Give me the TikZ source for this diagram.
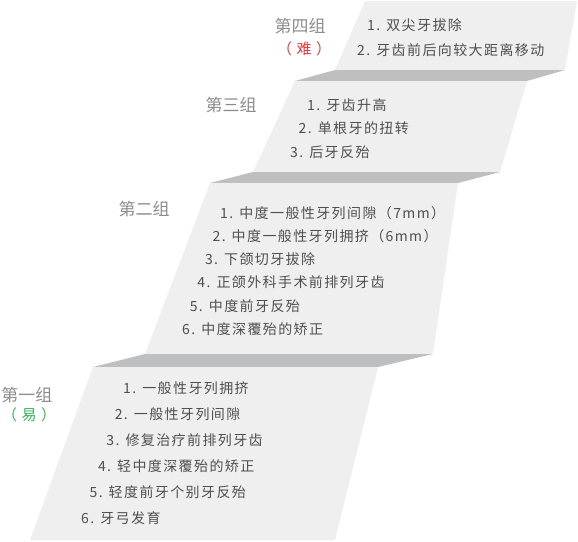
\documentclass[tikz,border=0pt]{standalone}
\usepackage{fontspec}
\setmainfont{Noto Sans CJK SC}
\newfontfamily\cjkitem[LetterSpace=10]{Noto Sans CJK SC}
\newfontfamily\cjklevel[LetterSpace=30]{Noto Sans CJK SC}
\usetikzlibrary{positioning}
\definecolor{cface}{HTML}{EFEFEF}
\definecolor{cband}{HTML}{BEBFC1}
\definecolor{ctext}{HTML}{4F4F4F}
\definecolor{cgroup}{HTML}{8C8C8C}
\definecolor{cred}{HTML}{E8383D}
\definecolor{cgreen}{HTML}{3DAE5A}
\tikzset{
  face/.style={fill=cface},
  band/.style={fill=cband},
  item/.style={anchor=west, inner sep=0pt, text=ctext, font=\cjkitem\fontsize{14}{14}\selectfont},
  group/.style={inner sep=0pt, text=cgroup, font=\fontsize{17}{17}\selectfont},
  level/.style={inner sep=0pt, text=#1, font=\cjklevel\fontsize{15}{15}\selectfont},
}

\begin{document}
\begin{tikzpicture}[x=1pt, y=-1pt]
  \useasboundingbox (0,0) rectangle (578,541);
  % ---------------- steps
  \fill[face] (365,1) -- (577,1) -- (565,70) -- (335,70) -- cycle;
  \fill[band] (335,70) -- (565,70) -- (527,81) -- (295,81) -- cycle;
  \fill[face] (295,81) -- (527,81) -- (500,172) -- (253,172) -- cycle;
  \fill[band] (253,172) -- (500,172) -- (458,183) -- (210,183) -- cycle;
  \fill[face] (210,183) -- (458,183) -- (433,354) -- (145,354) -- cycle;
  \fill[band] (145,354) -- (433,354) -- (378,367) -- (93,367) -- cycle;
  \fill[face] (93,367) -- (378,367) -- (335,540) -- (30,540) -- cycle;
  % ---------------- group 4
  \node[group] (g4) at (300,26) {第四组};
  \node[level=cred] (g4lv) at (304,49) {（难）};
  \foreach \t [count=\i] in {双尖牙拔除, 牙齿前后向较大距离移动}
    \node[item] (s4i\i) at ({367-10*(\i-1)}, {25+25*(\i-1)}) {\i. \t};
  % ---------------- group 3
  \node[group] (g3) at (231,105) {第三组};
  \foreach \t [count=\i] in {牙齿升高, 单根牙的扭转, 后牙反殆}
    \node[item] (s3i\i) at ({307-8.5*(\i-1)}, {105+23.5*(\i-1)}) {\i. \t};
  % ---------------- group 2
  \node[group] (g2) at (144,209) {第二组};
  \foreach \t [count=\i] in {中度一般性牙列间隙（7mm）, 中度一般性牙列拥挤（6mm）, 下颌切牙拔除,
      正颌外科手术前排列牙齿, 中度前牙反殆, 中度深覆殆的矫正}
    \node[item] (s2i\i) at ({220-7.6*(\i-1)}, {213+23.2*(\i-1)}) {\i. \t};
  % ---------------- group 1
  \node[group] (g1) at (27,395) {第一组};
  \node[level=cgreen] (g1lv) at (29,415) {（易）};
  \foreach \t [count=\i] in {一般性牙列拥挤, 一般性牙列间隙, 修复治疗前排列牙齿,
      轻中度深覆殆的矫正, 轻度前牙个别牙反殆, 牙弓发育}
    \node[item] (s1i\i) at ({123-8.4*(\i-1)}, {388+26*(\i-1)}) {\i. \t};
\end{tikzpicture}
\end{document}
